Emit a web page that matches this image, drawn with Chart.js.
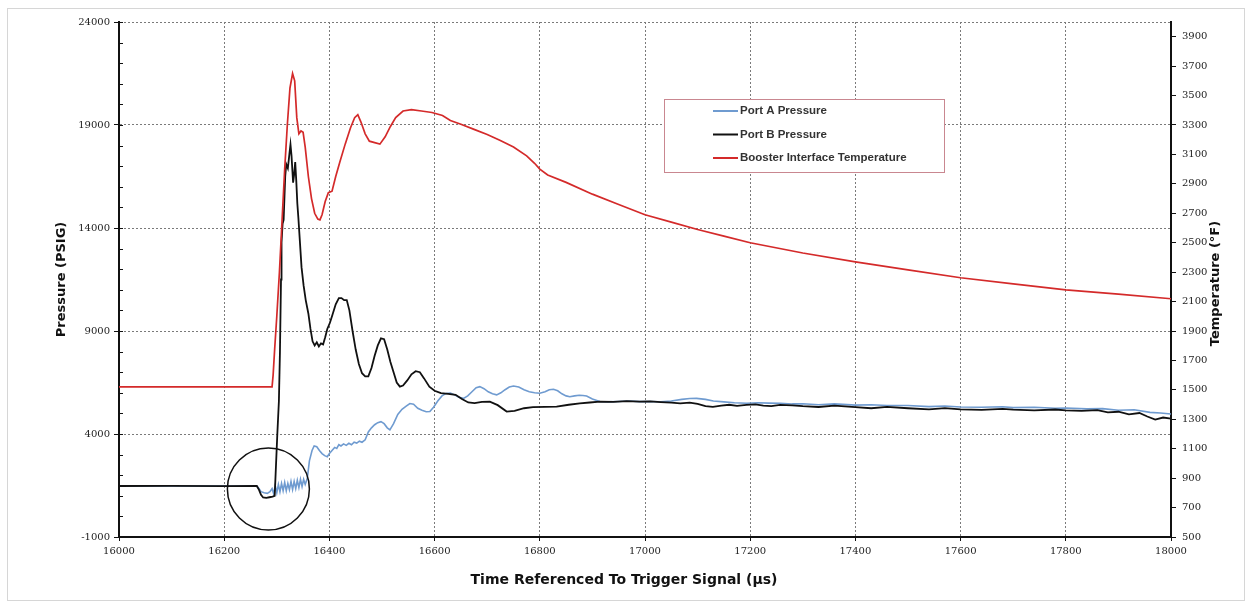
<!DOCTYPE html>
<html>
<head>
<meta charset="utf-8">
<script src="https://cdn.jsdelivr.net/npm/chart.js@4"></script>
<style>
  html, body { margin: 0; padding: 0; background: #fff; }
  canvas { display: block; }
</style>
</head>
<body>
<canvas id="myChart" width="1250" height="605"></canvas>
<script>
// ---- data ----
const timeTicks = [16000, 16200, 16400, 16600, 16800, 17000, 17200, 17400, 17600, 17800, 18000];
const pressureTicks = [-1000, 0, 1000, 2000, 3000, 4000, 5000, 6000, 7000, 8000, 9000, 10000, 11000, 12000,
  13000, 14000, 15000, 16000, 17000, 18000, 19000, 20000, 21000, 22000, 23000, 24000];
const pressureLabels = [-1000, 4000, 9000, 14000, 19000, 24000];
const tempTicks = [500, 700, 900, 1100, 1300, 1500, 1700, 1900, 2100, 2300, 2500, 2700, 2900, 3100, 3300, 3500, 3700, 3900];

const portATime = [16000, 16100, 16200, 16262, 16266, 16270, 16276, 16282, 16287, 16291, 16294, 16297, 16300, 16303,
  16306, 16309, 16312, 16315, 16318, 16321, 16324, 16327, 16330, 16333, 16336, 16339, 16342, 16345, 16348, 16351,
  16354, 16358, 16362, 16367, 16371, 16376, 16381, 16386, 16391, 16396, 16400, 16405, 16410, 16414, 16418, 16422,
  16427, 16432, 16437, 16442, 16447, 16452, 16457, 16462, 16468, 16474, 16480, 16486, 16492, 16498, 16504, 16510,
  16515, 16522, 16530, 16538, 16546, 16553, 16560, 16568, 16576, 16584, 16591, 16598, 16606, 16614, 16622, 16630,
  16638, 16646, 16655, 16663, 16671, 16679, 16686, 16694, 16702, 16710, 16718, 16726, 16734, 16742, 16750, 16760,
  16770, 16780, 16790, 16800, 16810, 16818, 16826, 16834, 16842, 16850, 16857, 16866, 16875, 16882, 16889, 16900,
  16914, 16930, 16950, 16970, 16990, 17010, 17030, 17050, 17070, 17085, 17098, 17115, 17130, 17150, 17170, 17193,
  17215, 17235, 17257, 17280, 17300, 17330, 17360, 17400, 17430, 17460, 17500, 17540, 17570, 17600, 17640, 17680,
  17700, 17740, 17780, 17800, 17840, 17870, 17900, 17930, 17960, 17980, 18000];
const portAValues = [1476, 1478, 1472, 1476, 1350, 1200, 1150, 1120, 1200, 1350, 1100, 1500, 1150, 1550,
  1200, 1600, 1250, 1650, 1250, 1600, 1300, 1700, 1300, 1700, 1350, 1750, 1400, 1800, 1450, 1800,
  1550, 1850, 2700, 3200, 3420, 3380, 3200, 3050, 2950, 2900, 3050, 3200, 3350, 3300, 3480, 3420,
  3520, 3450, 3550, 3480, 3600, 3560, 3650, 3600, 3720, 4100, 4300, 4450, 4550, 4600, 4500, 4300,
  4200, 4500, 4950, 5200, 5350, 5480, 5450, 5250, 5150, 5080, 5090, 5300, 5600, 5850, 5970, 5990,
  5900, 5780, 5730, 5850, 6050, 6250, 6300, 6200, 6050, 5950, 5900, 6000, 6150, 6280, 6330, 6280,
  6150, 6050, 6000, 5980, 6050, 6150, 6170, 6100, 5950, 5850, 5810, 5850, 5880, 5870, 5845, 5700,
  5580, 5560, 5580, 5600, 5570, 5580, 5560, 5600, 5680, 5720, 5730, 5680, 5600, 5560, 5520, 5490,
  5520, 5500, 5490, 5460, 5470, 5420, 5460, 5400, 5420, 5380, 5380, 5330, 5360, 5310, 5300, 5320,
  5280, 5300, 5250, 5260, 5220, 5230, 5150, 5180, 5050, 5020, 4970];

const portBTime = [16000, 16100, 16200, 16262, 16266, 16270, 16274, 16280, 16286, 16292, 16296, 16298, 16301, 16304,
  16306, 16308, 16309, 16311, 16313, 16316, 16318, 16321, 16324, 16326, 16328, 16331, 16333, 16335, 16337, 16339,
  16341, 16344, 16347, 16351, 16355, 16360, 16364, 16368, 16372, 16376, 16380, 16384, 16388, 16392, 16396, 16401,
  16406, 16412, 16418, 16423, 16428, 16433, 16438, 16444, 16450, 16456, 16462, 16468, 16474, 16480, 16486, 16492,
  16498, 16504, 16510, 16516, 16522, 16528, 16534, 16540, 16548, 16556, 16564, 16572, 16580, 16590, 16600, 16612,
  16626, 16640, 16652, 16664, 16676, 16690, 16705, 16720, 16737, 16752, 16770, 16787, 16810, 16832, 16855, 16876,
  16895, 16914, 16940, 16965, 16990, 17010, 17030, 17050, 17067, 17085, 17100, 17115, 17129, 17145, 17160, 17175,
  17193, 17210, 17225, 17240, 17257, 17280, 17300, 17330, 17360, 17400, 17430, 17460, 17500, 17540, 17570, 17600,
  17640, 17680, 17700, 17740, 17780, 17800, 17830, 17860, 17880, 17900, 17920, 17940, 17955, 17970, 17985, 18000];
const portBValues = [1476, 1480, 1470, 1476, 1300, 1050, 920, 900, 930, 960, 1000, 2200, 4000, 5600,
  8000, 11500, 13300, 14200, 14400, 16500, 17100, 16900, 17600, 18050, 17500, 16200, 16600, 17200, 16300, 15200,
  14500, 13300, 12100, 11200, 10500, 9850, 9100, 8500, 8300, 8450, 8250, 8400, 8350, 8700, 9100, 9400,
  9800, 10300, 10600, 10600, 10500, 10500, 10000, 9000, 8100, 7400, 6950, 6800, 6800, 7200, 7800, 8300,
  8640, 8600, 8100, 7500, 7000, 6500, 6300, 6350, 6600, 6900, 7050, 7000, 6700, 6300, 6100, 5980,
  5950, 5900, 5700, 5530, 5500, 5560, 5570, 5400, 5090, 5120, 5250, 5300, 5320, 5330, 5420, 5490,
  5530, 5570, 5560, 5600, 5570, 5580, 5550, 5520, 5490, 5520, 5460, 5350, 5320, 5380, 5420, 5370,
  5410, 5440, 5380, 5350, 5410, 5390, 5350, 5310, 5380, 5300, 5250, 5320, 5250, 5200, 5260, 5200,
  5170, 5220, 5180, 5150, 5190, 5150, 5120, 5160, 5050, 5080, 4950, 5020, 4850, 4700, 4800, 4750];

const tempTime = [16000, 16291, 16293, 16296, 16300, 16305, 16310, 16315, 16320, 16325, 16330, 16334, 16338, 16342,
  16346, 16350, 16354, 16360, 16366, 16372, 16378, 16382, 16386, 16392, 16398, 16405, 16412, 16420, 16430, 16440,
  16448, 16454, 16460, 16468, 16476, 16486, 16496, 16506, 16516, 16526, 16540, 16556, 16575, 16595, 16615, 16630,
  16650, 16675, 16700, 16725, 16750, 16775, 16790, 16800, 16815, 16850, 16900, 16950, 17000, 17050, 17100, 17150,
  17200, 17300, 17400, 17500, 17600, 17700, 17800, 17900, 18000];
const tempValues = [1520, 1520, 1600, 1780, 2000, 2300, 2650, 3000, 3300, 3550, 3650, 3600, 3350, 3240,
  3260, 3250, 3150, 2950, 2800, 2700, 2660, 2655, 2690, 2780, 2840, 2850, 2950, 3050, 3170, 3280,
  3350, 3370, 3320, 3240, 3190, 3180, 3170, 3220, 3290, 3350, 3395, 3405, 3395, 3385, 3365, 3330,
  3305, 3270, 3235, 3195, 3150, 3090, 3040, 3000, 2960, 2910, 2830, 2760, 2690, 2640, 2590, 2545,
  2500, 2430, 2370, 2315, 2262, 2220, 2180, 2150, 2119];

// circled region (time, pressure) and its radius in px
const circleTime = 16284;
const circlePressure = 1330;
const circleRadius = 41;

function toPoints(xs, ys) {
  return xs.map((x, i) => ({ x: x, y: ys[i] }));
}

const tickFont = { family: 'DejaVu Serif', size: 10 };
const tickColor = '#222';
const gridDots = '#7a7a7a';

const decor = {
  id: 'decor',
  beforeDraw(chart) {
    const ctx = chart.ctx;
    ctx.save();
    ctx.fillStyle = '#fff';
    ctx.fillRect(0, 0, chart.width, chart.height);
    ctx.strokeStyle = '#d6d6d6';
    ctx.lineWidth = 1;
    ctx.strokeRect(7.5, 8.5, 1237, 592);
    ctx.restore();
  },
  afterDraw(chart) {
    const ctx = chart.ctx;
    const a = chart.chartArea;
    const xs = chart.scales.x;
    const yp = chart.scales.yP;

    // minor ticks of the pressure axis sit inside the plot
    ctx.save();
    ctx.strokeStyle = '#111';
    ctx.lineWidth = 1;
    pressureTicks.forEach(v => {
      const y = Math.round(yp.getPixelForValue(v)) + 0.5;
      ctx.beginPath();
      ctx.moveTo(a.left, y);
      ctx.lineTo(a.left + 4, y);
      ctx.stroke();
    });
    ctx.restore();

    // circle annotation
    ctx.save();
    ctx.beginPath();
    ctx.arc(xs.getPixelForValue(circleTime), yp.getPixelForValue(circlePressure), circleRadius, 0, Math.PI * 2);
    ctx.strokeStyle = '#111';
    ctx.lineWidth = 1.5;
    ctx.stroke();
    ctx.restore();

    // axis titles
    ctx.save();
    ctx.fillStyle = '#111';
    ctx.font = 'bold 13px "DejaVu Sans"';
    ctx.textAlign = 'center';
    ctx.textBaseline = 'middle';
    ctx.translate(62, (a.top + a.bottom) / 2);
    ctx.rotate(-Math.PI / 2);
    ctx.fillText('Pressure (PSIG)', 0, 0);
    ctx.restore();

    ctx.save();
    ctx.fillStyle = '#111';
    ctx.font = 'bold 13px "DejaVu Sans"';
    ctx.textAlign = 'center';
    ctx.textBaseline = 'middle';
    ctx.translate(1216, (a.top + a.bottom) / 2 + 4);
    ctx.rotate(-Math.PI / 2);
    ctx.fillText('Temperature (°F)', 0, 0);
    ctx.restore();

    ctx.save();
    ctx.fillStyle = '#111';
    ctx.font = 'bold 14px "DejaVu Sans"';
    ctx.textAlign = 'center';
    ctx.textBaseline = 'middle';
    ctx.fillText('Time Referenced To Trigger Signal (µs)', 624, 580);
    ctx.restore();

    // legend box inside the plot
    const bx = a.left + 545, by = a.top + 77, bw = 280, bh = 73;
    ctx.save();
    ctx.fillStyle = '#fff';
    ctx.fillRect(bx, by, bw, bh);
    ctx.strokeStyle = '#c98790';
    ctx.lineWidth = 1;
    ctx.strokeRect(bx + 0.5, by + 0.5, bw, bh);
    ctx.font = 'bold 11.5px "Liberation Sans"';
    ctx.textBaseline = 'middle';
    chart.data.datasets.forEach((ds, i) => {
      const ly = by + 12 + i * 23.5;
      ctx.strokeStyle = ds.borderColor;
      ctx.lineWidth = 2;
      ctx.beginPath();
      ctx.moveTo(bx + 49, ly);
      ctx.lineTo(bx + 74, ly);
      ctx.stroke();
      ctx.fillStyle = '#333';
      ctx.fillText(ds.label, bx + 76, ly);
    });
    ctx.restore();
  }
};

new Chart(document.getElementById('myChart'), {
  type: 'line',
  data: {
    datasets: [
      { label: 'Port A Pressure', data: toPoints(portATime, portAValues), yAxisID: 'yP',
        borderColor: '#6f9bd0', borderWidth: 1.6, pointRadius: 0, order: 2 },
      { label: 'Port B Pressure', data: toPoints(portBTime, portBValues), yAxisID: 'yP',
        borderColor: '#111111', borderWidth: 1.8, pointRadius: 0, order: 1 },
      { label: 'Booster Interface Temperature', data: toPoints(tempTime, tempValues), yAxisID: 'yT',
        borderColor: '#d42a2a', borderWidth: 1.7, pointRadius: 0, order: 0 }
    ]
  },
  options: {
    responsive: false,
    animation: false,
    devicePixelRatio: 1,
    layout: { padding: { top: 22, left: 0, right: 0, bottom: 0 } },
    plugins: { legend: { display: false }, tooltip: { enabled: false } },
    scales: {
      x: {
        type: 'linear',
        min: 16000, max: 18000,
        afterFit: s => { s.height = 68; },
        afterBuildTicks: s => { s.ticks = timeTicks.map(v => ({ value: v })); },
        ticks: { font: tickFont, color: tickColor, padding: 4, autoSkip: false, maxRotation: 0,
          callback: v => String(v) },
        grid: {
          color: c => (c.index === 0 || c.index === timeTicks.length - 1) ? 'rgba(0,0,0,0)' : gridDots,
          lineWidth: 1, tickLength: 4, tickColor: '#111'
        },
        border: { color: '#111', width: 2, dash: [2, 2] }
      },
      yP: {
        type: 'linear', position: 'left',
        min: -1000, max: 24000,
        afterFit: s => { s.width = 119; },
        afterBuildTicks: s => { s.ticks = pressureLabels.map(v => ({ value: v })); },
        ticks: { font: tickFont, color: tickColor, padding: 4, autoSkip: false, callback: v => String(v) },
        grid: {
          color: c => (c.tick && c.tick.value !== -1000) ? gridDots : 'rgba(0,0,0,0)',
          lineWidth: 1, tickLength: 5, tickColor: '#111'
        },
        border: { color: '#111', width: 2, dash: [2, 2] }
      },
      yT: {
        type: 'linear', position: 'right',
        min: 500, max: 4000,
        afterFit: s => { s.width = 79; },
        afterBuildTicks: s => { s.ticks = tempTicks.map(v => ({ value: v })); },
        ticks: { font: tickFont, color: tickColor, padding: 6, autoSkip: false, callback: v => String(v) },
        grid: { drawOnChartArea: false, tickLength: 5, tickColor: '#111' },
        border: { color: '#111', width: 2 }
      }
    }
  },
  plugins: [decor]
});
</script>
</body>
</html>
